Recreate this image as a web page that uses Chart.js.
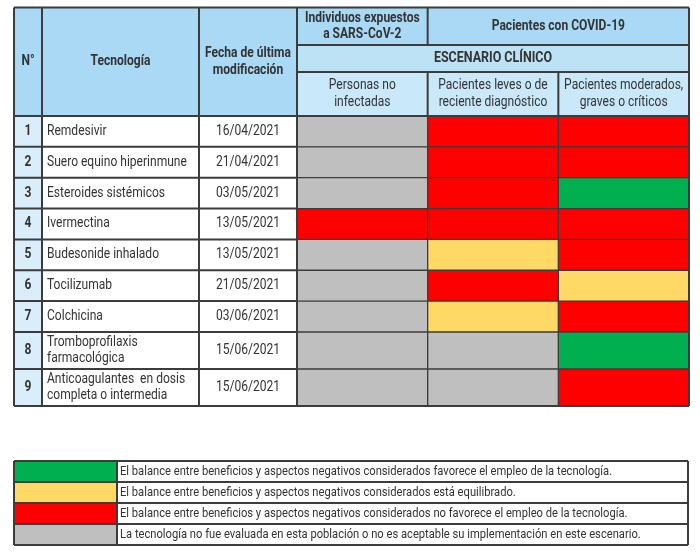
<!DOCTYPE html>
<html>
<head>
<meta charset="utf-8">
<script src="https://cdn.jsdelivr.net/npm/chart.js@4.4.1/dist/chart.umd.min.js"></script>
<style>
  html, body { margin: 0; padding: 0; background: #ffffff; }
  canvas { display: block; }
</style>
</head>
<body>
<canvas id="tablaCanvas" width="700" height="553"></canvas>
<script>
// Datos de la tabla
var numeros = ['1', '2', '3', '4', '5', '6', '7', '8', '9'];
var tecnologias = [
    'Remdesivir',
    'Suero equino hiperinmune',
    'Esteroides sistémicos',
    'Ivermectina',
    'Budesonide inhalado',
    'Tocilizumab',
    'Colchicina',
    'Tromboprofilaxis\nfarmacológica',
    'Anticoagulantes  en dosis\ncompleta o intermedia'
];
var fechas = ['16/04/2021', '21/04/2021', '03/05/2021', '13/05/2021', '13/05/2021', '21/05/2021', '03/06/2021', '15/06/2021', '15/06/2021'];
var escenarios = ['Personas no\ninfectadas', 'Pacientes leves o de\nreciente diagnóstico', 'Pacientes moderados,\ngraves o críticos'];

// F = favorece, E = equilibrado, C = no favorece, NE = no evaluada
var personasNoInfectadas = ['NE', 'NE', 'NE', 'C', 'NE', 'NE', 'NE', 'NE', 'NE'];
var pacientesLeves = ['C', 'C', 'C', 'C', 'E', 'C', 'E', 'NE', 'NE'];
var pacientesModerados = ['C', 'C', 'F', 'C', 'C', 'E', 'C', 'F', 'C'];

var leyendaClaves = ['F', 'E', 'C', 'NE'];
var leyendaTextos = [
    'El balance entre beneficios y aspectos negativos considerados favorece el empleo de la tecnología.',
    'El balance entre beneficios y aspectos negativos considerados está equilibrado.',
    'El balance entre beneficios y aspectos negativos considerados no favorece el empleo de la tecnología.',
    'La tecnología no fue evaluada en esta población o no es aceptable su implementación en este escenario.'
];

// Estilos
var colores = { F: '#00b050', E: '#ffd966', C: '#ff0000', NE: '#bfbfc0' };
var BORDE = '#3c3c3c';
var AZUL1 = '#a9d9f5';
var AZUL2 = '#bde2f6';
var AZUL3 = '#c9e8f9';
var AZUL_NUM = '#d9eefa';
var TEXTO = '#333333';
var ESTRECHO = 0.86;
var FUENTE = 'Roboto, "Noto Sans", sans-serif';

// filas con dos lineas son un poco mas altas
var alturas = tecnologias.map(function (t) {
    return t.split('\n').length > 1 ? 1.2 : 1;
});
var inicioFila = [];
var acumulado = 0;
alturas.forEach(function (h) {
    inicioFila.push(acumulado);
    acumulado += h;
});
var totalFilas = acumulado;

function datosEscenario(valores, k) {
    return valores.map(function (v, i) {
        return { x: escenarios[k], y: [inicioFila[i], inicioFila[i] + alturas[i]] };
    });
}

function texto(ctx, str, x, y, font, align, color, lh) {
    var lines = str.split('\n');
    ctx.save();
    ctx.font = font;
    ctx.fillStyle = color;
    ctx.textAlign = align;
    ctx.textBaseline = 'middle';
    lines.forEach(function (l, i) {
        var yy = y + (i - (lines.length - 1) / 2) * lh;
        ctx.save();
        ctx.translate(x, yy);
        ctx.scale(ESTRECHO, 1);
        ctx.fillText(l, 0, 0);
        ctx.restore();
    });
    ctx.restore();
}

function linea(ctx, x1, y1, x2, y2) {
    ctx.beginPath();
    ctx.moveTo(x1, y1);
    ctx.lineTo(x2, y2);
    ctx.stroke();
}

// Dibuja encabezados, columnas de texto, bordes y leyenda usando las escalas
var tablaPlugin = {
    id: 'tabla',
    beforeDraw: function (chart) {
        var ctx = chart.ctx;
        ctx.save();
        ctx.fillStyle = '#ffffff';
        ctx.fillRect(0, 0, chart.width, chart.height);
        ctx.restore();
    },
    afterDatasetsDraw: function (chart) {
        var ctx = chart.ctx;
        var area = chart.chartArea;
        var xs = chart.scales.x;
        var ys = chart.scales.y;
        var medio = (xs.getPixelForValue(1) - xs.getPixelForValue(0)) / 2;
        var bordesX = [xs.getPixelForValue(0) - medio, xs.getPixelForValue(0) + medio, xs.getPixelForValue(1) + medio, xs.getPixelForValue(2) + medio];

        var anchosIzq = [28, 157, 98];
        var colIzq = [area.left - anchosIzq[0] - anchosIzq[1] - anchosIzq[2]];
        colIzq.push(colIzq[0] + anchosIzq[0], colIzq[0] + anchosIzq[0] + anchosIzq[1], area.left);

        var altosEnc = [37.5, 27, 44];
        var encY = [area.top - altosEnc[0] - altosEnc[1] - altosEnc[2]];
        encY.push(encY[0] + altosEnc[0], encY[0] + altosEnc[0] + altosEnc[1], area.top);

        var filaY = inicioFila.map(function (v) { return ys.getPixelForValue(v); });
        filaY.push(ys.getPixelForValue(totalFilas));

        ctx.save();
        // fondos del encabezado
        ctx.fillStyle = AZUL1;
        ctx.fillRect(colIzq[0], encY[0], bordesX[3] - colIzq[0], encY[1] - encY[0]);
        ctx.fillRect(colIzq[0], encY[0], area.left - colIzq[0], encY[3] - encY[0]);
        ctx.fillStyle = AZUL2;
        ctx.fillRect(bordesX[0], encY[1], bordesX[3] - bordesX[0], encY[2] - encY[1]);
        ctx.fillStyle = AZUL3;
        ctx.fillRect(bordesX[0], encY[2], bordesX[3] - bordesX[0], encY[3] - encY[2]);
        // columnas de texto
        ctx.fillStyle = AZUL_NUM;
        ctx.fillRect(colIzq[0], filaY[0], colIzq[1] - colIzq[0], filaY[9] - filaY[0]);
        ctx.fillStyle = '#ffffff';
        ctx.fillRect(colIzq[1], filaY[0], colIzq[3] - colIzq[1], filaY[9] - filaY[0]);

        // lineas
        ctx.strokeStyle = BORDE;
        ctx.lineWidth = 2;
        filaY.forEach(function (y) { linea(ctx, colIzq[0], y, colIzq[3], y); });
        colIzq.forEach(function (x) { linea(ctx, x, encY[0], x, filaY[9]); });
        linea(ctx, colIzq[0], encY[0], bordesX[3], encY[0]);
        linea(ctx, bordesX[0], encY[1], bordesX[3], encY[1]);
        linea(ctx, bordesX[0], encY[2], bordesX[3], encY[2]);
        linea(ctx, colIzq[0], encY[3], bordesX[3], encY[3]);
        linea(ctx, bordesX[1], encY[0], bordesX[1], encY[1]);
        linea(ctx, bordesX[1], encY[2], bordesX[1], encY[3]);
        linea(ctx, bordesX[2], encY[2], bordesX[2], encY[3]);
        linea(ctx, bordesX[3], encY[0], bordesX[3], filaY[9]);
        linea(ctx, colIzq[0], filaY[9], bordesX[3], filaY[9]);
        ctx.restore();

        // textos del encabezado
        var negrita = 'bold 14px ' + FUENTE;
        var encMedio = (encY[0] + encY[3]) / 2;
        texto(ctx, 'N°', (colIzq[0] + colIzq[1]) / 2, encMedio, negrita, 'center', TEXTO, 16);
        texto(ctx, 'Tecnología', (colIzq[1] + colIzq[2]) / 2, encMedio, negrita, 'center', TEXTO, 16);
        texto(ctx, 'Fecha de última\nmodificación', (colIzq[2] + colIzq[3]) / 2, encMedio, negrita, 'center', TEXTO, 17);
        texto(ctx, 'Individuos expuestos\na SARS-CoV-2', (bordesX[0] + bordesX[1]) / 2, (encY[0] + encY[1]) / 2, negrita, 'center', TEXTO, 15.5);
        texto(ctx, 'Pacientes con COVID-19', (bordesX[1] + bordesX[3]) / 2, (encY[0] + encY[1]) / 2, negrita, 'center', TEXTO, 15);
        texto(ctx, 'ESCENARIO CLÍNICO', (bordesX[0] + bordesX[3]) / 2, (encY[1] + encY[2]) / 2, 'bold 14.5px ' + FUENTE, 'center', TEXTO, 15);
        escenarios.forEach(function (e, k) {
            texto(ctx, e, xs.getPixelForValue(k), (encY[2] + encY[3]) / 2, '14px ' + FUENTE, 'center', TEXTO, 16.5);
        });

        // textos de las filas
        for (var i = 0; i < tecnologias.length; i++) {
            var yc = (filaY[i] + filaY[i + 1]) / 2;
            texto(ctx, numeros[i], (colIzq[0] + colIzq[1]) / 2, yc, 'bold 14px ' + FUENTE, 'center', TEXTO, 16);
            texto(ctx, tecnologias[i], colIzq[1] + 5, yc, '14px ' + FUENTE, 'left', TEXTO, 16.5);
            texto(ctx, fechas[i], (colIzq[2] + colIzq[3]) / 2, yc, '14px ' + FUENTE, 'center', TEXTO, 16);
        }

        // leyenda
        var leyTop = filaY[9] + 55;
        var leyAlto = 21;
        var leyIzq = colIzq[0];
        var leyMuestra = 103;
        var leyDer = bordesX[3] - 1;
        ctx.save();
        leyendaClaves.forEach(function (c, j) {
            var y0 = leyTop + j * leyAlto;
            ctx.fillStyle = colores[c];
            ctx.fillRect(leyIzq, y0, leyMuestra, leyAlto);
        });
        ctx.strokeStyle = BORDE;
        ctx.lineWidth = 2;
        for (var j = 0; j <= leyendaClaves.length; j++) {
            linea(ctx, leyIzq, leyTop + j * leyAlto, leyDer, leyTop + j * leyAlto);
        }
        linea(ctx, leyIzq, leyTop, leyIzq, leyTop + 4 * leyAlto);
        linea(ctx, leyIzq + leyMuestra, leyTop, leyIzq + leyMuestra, leyTop + 4 * leyAlto);
        linea(ctx, leyDer, leyTop, leyDer, leyTop + 4 * leyAlto);
        ctx.restore();
        leyendaTextos.forEach(function (t, j) {
            texto(ctx, t, leyIzq + leyMuestra + 3, leyTop + j * leyAlto + leyAlto / 2, '13px ' + FUENTE, 'left', TEXTO, 14);
        });
    }
};

function drawTabla(canvasId) {
    var series = [personasNoInfectadas, pacientesLeves, pacientesModerados];
    var datasets = series.map(function (valores, k) {
        return {
            label: escenarios[k],
            data: datosEscenario(valores, k),
            backgroundColor: valores.map(function (v) { return colores[v]; }),
            borderColor: BORDE,
            borderWidth: 1,
            borderSkipped: false,
            grouped: false,
            categoryPercentage: 1,
            barPercentage: 1
        };
    });

    var ctx = document.getElementById(canvasId);
    var chart = new Chart(ctx, {
        type: 'bar',
        data: { labels: escenarios, datasets: datasets },
        options: {
            responsive: false,
            animation: false,
            layout: { padding: { left: 297, right: 11, top: 116, bottom: 147 } },
            plugins: { legend: { display: false }, tooltip: { enabled: false } },
            scales: {
                x: { type: 'category', display: false, offset: true },
                y: { type: 'linear', display: false, min: 0, max: totalFilas, reverse: true }
            }
        },
        plugins: [tablaPlugin]
    });
}

drawTabla('tablaCanvas');
</script>
</body>
</html>
